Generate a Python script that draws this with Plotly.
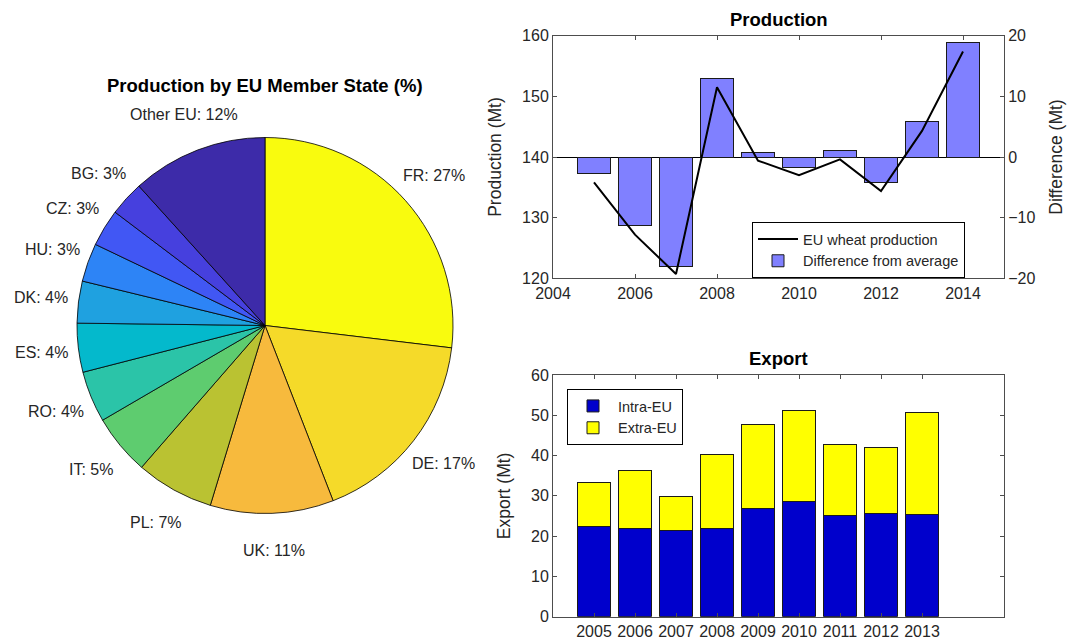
import math
import plotly.graph_objects as go

# ---------------- data ----------------
states = ["FR", "DE", "UK", "PL", "IT", "RO", "ES", "DK", "HU", "CZ", "BG", "Other EU"]
state_share = [26.9, 17.2, 10.6, 6.7, 5.2, 4.4, 4.2, 3.6, 3.3, 3.2, 3.0, 11.7]
state_colors = ["#F9FB0E", "#F5DA29", "#F7BA3D", "#BAC232", "#5ECC6F", "#2BC4A8",
                "#04B9CC", "#1FA1E0", "#2D84F6", "#4157F4", "#4640DE", "#3D2BA9"]

prod_years = [2005, 2006, 2007, 2008, 2009, 2010, 2011, 2012, 2013, 2014]
production = [135.8, 127.2, 120.7, 151.5, 139.4, 137.0, 139.6, 134.4, 144.3, 157.4]
difference = [-2.8, -11.3, -18.0, 12.9, 0.7, -1.7, 1.0, -4.2, 5.8, 18.9]

exp_years = [2005, 2006, 2007, 2008, 2009, 2010, 2011, 2012, 2013]
intra_eu = [22.5, 22.0, 21.3, 21.8, 26.9, 28.6, 25.2, 25.7, 25.4]
extra_eu = [10.7, 14.2, 8.6, 18.5, 20.8, 22.6, 17.6, 16.3, 25.3]

FONT = "Liberation Sans, Arial, Helvetica, sans-serif"
TXT = "#262626"
AX = "#4d4d4d"
W, H = 1070, 644

fig = go.Figure()

# ---------------- pie ----------------
cx, cy, r = 265, 325.5, 188
fig.add_trace(go.Pie(
    labels=states, values=state_share, sort=False, direction="clockwise",
    rotation=0, marker=dict(colors=state_colors, line=dict(color="black", width=0.8)),
    textinfo="none", showlegend=False,
    hoverinfo="label+percent", automargin=False,
    domain=dict(x=[(cx - r) / W, (cx + r) / W], y=[1 - (cy + r) / H, 1 - (cy - r) / H]),
))

# pie labels centred at 1.2 x radius on each slice's mid-angle (as MATLAB pie does)
total = sum(state_share)
annotations = []
cum = 0.0
for name, v in zip(states, state_share):
    theta = 2 * math.pi * (cum + v / 2) / total
    cum += v
    px = cx + 1.2 * r * math.sin(theta)
    py = cy - 1.2 * r * math.cos(theta)
    annotations.append(dict(
        text=f"{name}: {round(100 * v / total)}%", x=px / W, y=1 - py / H,
        xref="paper", yref="paper", xanchor="center", yanchor="middle",
        showarrow=False, font=dict(family=FONT, size=16, color=TXT)))

# ---------------- production ----------------
fig.add_trace(go.Scatter(
    x=prod_years, y=production, mode="lines", name="EU wheat production",
    line=dict(color="black", width=2), xaxis="x", yaxis="y2", legend="legend",
))
fig.add_trace(go.Bar(
    x=prod_years, y=difference, name="Difference from average", width=0.8,
    marker=dict(color="#8080FF", line=dict(color="#1a1a1a", width=1)),
    xaxis="x", yaxis="y", legend="legend",
))

# ---------------- export ----------------
fig.add_trace(go.Bar(
    x=exp_years, y=intra_eu, name="Intra-EU", width=0.8,
    marker=dict(color="#0000CC", line=dict(color="#1a1a1a", width=1)),
    xaxis="x3", yaxis="y3", legend="legend2",
))
fig.add_trace(go.Bar(
    x=exp_years, y=extra_eu, name="Extra-EU", width=0.8,
    marker=dict(color="#FFFF00", line=dict(color="#1a1a1a", width=1)),
    xaxis="x3", yaxis="y3", legend="legend2",
))

xd = [553 / W, 1004 / W]
prod_dom = [1 - 278.3 / H, 1 - 35.7 / H]
exp_dom = [1 - 616.7 / H, 1 - 375 / H]

axis_common = dict(showline=True, linecolor=AX, linewidth=1, ticks="inside", ticklen=4,
                   tickcolor=AX, showgrid=False, zeroline=False, automargin=False,
                   tickfont=dict(family=FONT, size=16, color=TXT))
title_font = dict(family=FONT, size=17.5, color=TXT)

annotations += [
    dict(text="<b>Production by EU Member State (%)</b>", x=cx / W, y=1 - 85 / H,
         xref="paper", yref="paper", xanchor="center", yanchor="middle",
         showarrow=False, font=dict(family=FONT, size=18.5, color="black")),
    dict(text="<b>Production</b>", x=(553 + 1004) / 2 / W, y=1 - 20 / H,
         xref="paper", yref="paper", xanchor="center", yanchor="middle",
         showarrow=False, font=dict(family=FONT, size=18.5, color="black")),
    dict(text="<b>Export</b>", x=(553 + 1004) / 2 / W, y=1 - 358 / H,
         xref="paper", yref="paper", xanchor="center", yanchor="middle",
         showarrow=False, font=dict(family=FONT, size=18.5, color="black")),
]

fig.update_layout(
    width=W, height=H, margin=dict(l=0, r=0, t=0, b=0, autoexpand=False),
    paper_bgcolor="white", plot_bgcolor="white",
    font=dict(family=FONT, size=14, color=TXT),
    barmode="stack",
    xaxis=dict(domain=xd, anchor="y", range=[2004, 2015], tickvals=[2004, 2006, 2008, 2010, 2012, 2014],
               mirror="ticks", **axis_common),
    yaxis=dict(domain=prod_dom, anchor="x", side="right", range=[-20, 20], dtick=10,
               title=dict(text="Difference (Mt)", font=title_font),
               **{**axis_common, "zeroline": True}, zerolinecolor="black", zerolinewidth=1),
    yaxis2=dict(overlaying="y", anchor="x", side="left", range=[120, 160], dtick=10,
                title=dict(text="Production (Mt)", font=title_font),
                **axis_common),
    xaxis3=dict(domain=xd, anchor="y3", range=[2004, 2015], tickvals=exp_years,
                mirror="ticks", **axis_common),
    yaxis3=dict(domain=exp_dom, anchor="x3", range=[0, 60], dtick=10, mirror="ticks",
                title=dict(text="Export (Mt)", font=title_font),
                **axis_common),
    legend=dict(x=752 / W, y=1 - 222 / H, xanchor="left", yanchor="top",
                bordercolor="black", borderwidth=1, bgcolor="white",
                font=dict(family=FONT, size=14.5, color=TXT), tracegroupgap=0,
                traceorder="normal", itemwidth=40),
    legend2=dict(x=567 / W, y=1 - 389 / H, xanchor="left", yanchor="top",
                 bordercolor="black", borderwidth=1, bgcolor="white",
                 font=dict(family=FONT, size=14.5, color=TXT), tracegroupgap=0,
                 traceorder="normal", itemwidth=40),
    annotations=annotations,
)

fig.write_html("out.html", config={"displayModeBar": False},
               post_script="document.body.style.margin='0';")
